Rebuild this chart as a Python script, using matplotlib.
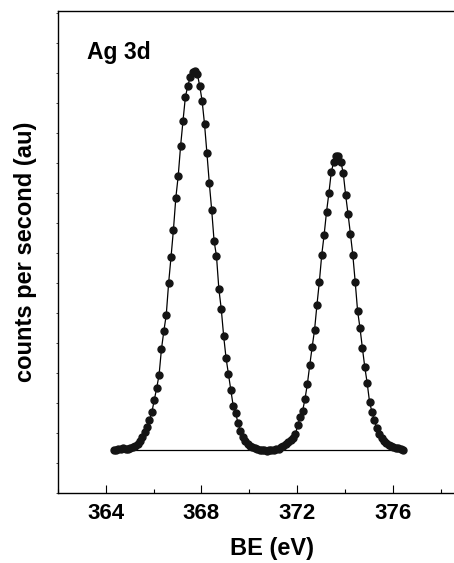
"""Ag 3d XPS spectrum: measured points joined by a thin line, plus a flat background line."""

import matplotlib

matplotlib.use("Agg")
import matplotlib.pyplot as plt
from matplotlib.ticker import MultipleLocator

plt.rcParams["font.family"] = ["Liberation Sans", "DejaVu Sans"]
plt.rcParams["font.weight"] = "bold"

# binding energy (eV)
be = [
    364.33, 364.43, 364.53, 364.63, 364.73, 364.83, 364.93, 365.03, 365.13, 365.23,
    365.33, 365.43, 365.53, 365.63, 365.73, 365.83, 365.93, 366.03, 366.13, 366.23,
    366.33, 366.43, 366.53, 366.63, 366.73, 366.83, 366.93, 367.03, 367.13, 367.23,
    367.33, 367.43, 367.53, 367.63, 367.73, 367.83, 367.93, 368.03, 368.13, 368.23,
    368.33, 368.43, 368.53, 368.63, 368.73, 368.83, 368.93, 369.03, 369.13, 369.23,
    369.33, 369.43, 369.53, 369.63, 369.73, 369.83, 369.93, 370.03, 370.13, 370.23,
    370.33, 370.43, 370.53, 370.63, 370.73, 370.83, 370.93, 371.03, 371.13, 371.23,
    371.33, 371.43, 371.53, 371.63, 371.73, 371.83, 371.93, 372.03, 372.13, 372.23,
    372.33, 372.43, 372.53, 372.63, 372.73, 372.83, 372.93, 373.03, 373.13, 373.23,
    373.33, 373.43, 373.53, 373.63, 373.73, 373.83, 373.93, 374.03, 374.13, 374.23,
    374.33, 374.43, 374.53, 374.63, 374.73, 374.83, 374.93, 375.03, 375.13, 375.23,
    375.33, 375.43, 375.53, 375.63, 375.73, 375.83, 375.93, 376.03, 376.13, 376.23,
    376.33, 376.43,
]

# counts per second (arbitrary units)
cps = [
    860, 860, 880, 880, 900, 880, 880, 900, 920, 940,
    980, 1040, 1120, 1220, 1320, 1460, 1620, 1860, 2100, 2360,
    2880, 3240, 3560, 4200, 4720, 5260, 5900, 6340, 6940, 7440,
    7920, 8140, 8320, 8420, 8440, 8380, 8140, 7840, 7380, 6800,
    6200, 5660, 5040, 4740, 4080, 3680, 3140, 2700, 2380, 2060,
    1740, 1600, 1400, 1240, 1120, 1040, 980, 940, 920, 900,
    880, 860, 860, 860, 840, 860, 860, 860, 880, 880,
    920, 940, 980, 1020, 1060, 1100, 1180, 1360, 1520, 1640,
    1880, 2180, 2560, 2920, 3260, 3760, 4220, 4760, 5160, 5620,
    6000, 6420, 6620, 6740, 6740, 6620, 6400, 5960, 5580, 5180,
    4760, 4220, 3640, 3300, 2900, 2520, 2200, 1820, 1620, 1460,
    1300, 1180, 1100, 1040, 1000, 960, 940, 920, 900, 900,
    880, 860,
]

# linear background under both peaks
bg_be = [365.1, 376.3]
bg_cps = [860, 860]

fig = plt.figure(figsize=(4.54, 5.63), dpi=100)
# axes runs past the right edge of the picture, as in the original
ax = fig.add_axes([0.1275, 0.1243, 0.9431, 0.8562])

ax.plot(bg_be, bg_cps, color="black", lw=0.9, zorder=1)
ax.plot(be, cps, color="black", lw=0.9, marker="o", ms=5.0,
        mfc="#141414", mec="#141414", zorder=2)

ax.set_xlim(362, 379.9)
ax.set_ylim(0, 9640)
ax.xaxis.set_major_locator(MultipleLocator(4))
ax.xaxis.set_minor_locator(MultipleLocator(2))
ax.yaxis.set_major_locator(MultipleLocator(600))
ax.set_yticklabels([])

ax.tick_params(axis="x", which="major", direction="in", length=6, width=0.8,
               labelsize=16, pad=7)
ax.tick_params(axis="x", which="minor", direction="in", length=3, width=0.8)
ax.tick_params(axis="y", which="major", direction="out", length=1.5, width=0.5)
ax.tick_params(top=False, right=False)
for lbl in ax.get_xticklabels():
    lbl.set_fontweight("bold")

for side in ("left", "bottom", "top", "right"):
    ax.spines[side].set_linewidth(1.0)

ax.set_xlabel("BE (eV)", fontsize=17, fontweight="bold", labelpad=9.5)
ax.set_ylabel("counts per second (au)", fontsize=17, fontweight="bold", labelpad=10)

ax.text(0.067, 0.913, "Ag 3d", transform=ax.transAxes, fontsize=16.5,
        fontweight="bold", ha="left", va="center")

fig.savefig("out.png", dpi=100)
